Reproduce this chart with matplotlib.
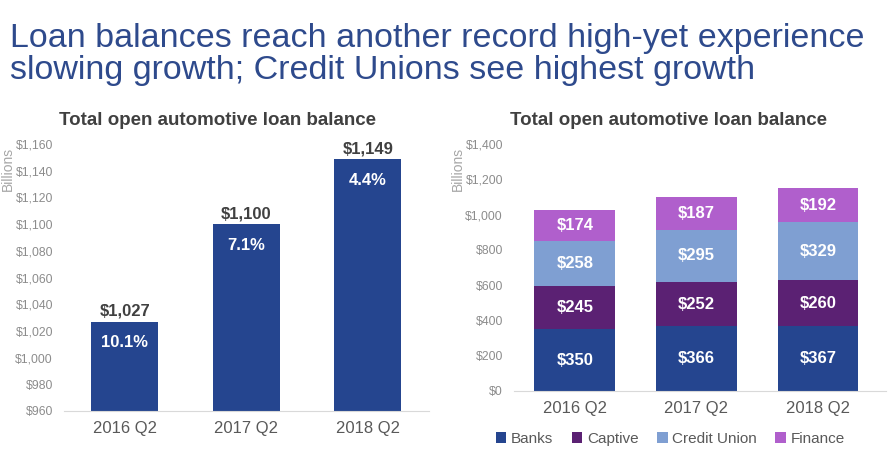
import matplotlib.pyplot as plt
import numpy as np

plt.rcParams["font.family"] = ["Liberation Sans", "DejaVu Sans"]

quarters = ["2016 Q2", "2017 Q2", "2018 Q2"]
total = [1027, 1100, 1149]
growth = ["10.1%", "7.1%", "4.4%"]

banks = [350, 366, 367]
captive = [245, 252, 260]
credit_union = [258, 295, 329]
finance = [174, 187, 192]

seg_names = ["Banks", "Captive", "Credit Union", "Finance"]
seg_colors = ["#25458f", "#5b2173", "#7f9fd2", "#b05fcc"]

tick_col = "#8c8c8c"
cat_col = "#595959"
head_col = "#404040"

fig = plt.figure(figsize=(8.9, 4.57), dpi=100)

title_lines = ["Loan balances reach another record high-yet experience",
               "slowing growth; Credit Unions see highest growth"]
for line, base_px in zip(title_lines, (47, 79)):
    fig.text(0.011, 1 - base_px / 457, line, color="#2e4a8c", fontsize=24.5,
             va="baseline", ha="left")

# left chart
ax1 = fig.add_axes([64 / 890, 46 / 457, 364.5 / 890, 267 / 457])
x = np.arange(len(quarters))
ax1.bar(x, [t - 960 for t in total], bottom=960, width=0.555, color="#25458f")
for i, t in enumerate(total):
    ax1.text(i, t + 2, "${:,}".format(t), ha="center", va="bottom",
             fontsize=12, fontweight="bold", color=head_col)
    ax1.text(i, t - 16, growth[i], ha="center", va="center",
             fontsize=12, fontweight="bold", color="white")
ax1.set_ylim(960, 1160)
ax1.set_xlim(-0.5, 2.5)
ax1.set_yticks(range(960, 1161, 20))
ax1.set_yticklabels(["${:,}".format(v) for v in range(960, 1161, 20)])
ax1.set_title("Total open automotive loan balance", fontsize=13.5,
              fontweight="bold", color=head_col, pad=14, x=0.421)

# right chart
ax2 = fig.add_axes([514 / 890, 66 / 457, 372 / 890, 247 / 457])
segs = [banks, captive, credit_union, finance]
bottom = np.zeros(len(quarters))
for name, vals, col in zip(seg_names, segs, seg_colors):
    ax2.bar(x, vals, bottom=bottom, width=0.665, color=col, label=name)
    for i, v in enumerate(vals):
        ax2.text(i, bottom[i] + v / 2, "${}".format(v), ha="center", va="center",
                 fontsize=12, fontweight="bold", color="white")
    bottom += np.array(vals)
ax2.set_ylim(0, 1400)
ax2.set_xlim(-0.5, 2.56)
ax2.set_yticks(range(0, 1401, 200))
ax2.set_yticklabels(["${:,}".format(v) for v in range(0, 1401, 200)])
ax2.set_title("Total open automotive loan balance", fontsize=13.5,
              fontweight="bold", color=head_col, pad=14, x=0.415)
ax2.legend(loc="upper center", bbox_to_anchor=(0.42, -0.11), ncol=4, frameon=False,
           fontsize=11, handlelength=0.7, handleheight=0.7, handletextpad=0.3,
           columnspacing=1.2, labelcolor=cat_col)

for ax in (ax1, ax2):
    for s in ("top", "right", "left"):
        ax.spines[s].set_visible(False)
    ax.spines["bottom"].set_color("#d9d9d9")
    ax.set_xticks(x)
    ax.set_xticklabels(quarters, fontsize=12, color=cat_col)
    ax.tick_params(axis="y", length=0, labelsize=8.8, labelcolor=tick_col, pad=8)
    ax.tick_params(axis="x", length=0, pad=7)

# "Billions" unit labels
for px in (8, 458):
    fig.text(px / 890, 1 - 147 / 457, "Billions", rotation=90, ha="center", va="top",
             fontsize=10, color="#a6a6a6")

fig.savefig("out.png", dpi=100)
